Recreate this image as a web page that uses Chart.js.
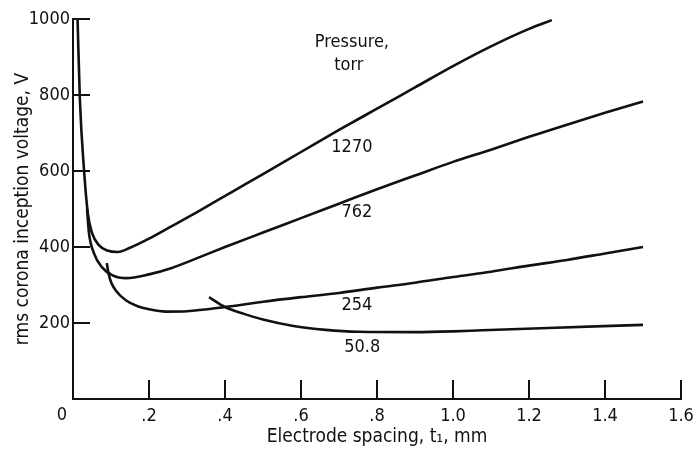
<!DOCTYPE html>
<html>
<head>
<meta charset="utf-8">
<script src="https://cdn.jsdelivr.net/npm/chart.js@4.4.1/dist/chart.umd.min.js"></script>
<style>
  html, body { margin: 0; padding: 0; background: #fff; }
  #wrap { width: 696px; height: 451px; }
</style>
</head>
<body>
<div id="wrap"><canvas id="c" width="696" height="451"></canvas></div>
<script>
// ---- data ----
const xTickValues = [0, 0.2, 0.4, 0.6, 0.8, 1.0, 1.2, 1.4, 1.6];
const xTickLabels = ['0', '.2', '.4', '.6', '.8', '1.0', '1.2', '1.4', '1.6'];
const yTickValues = [200, 400, 600, 800, 1000];
const yTickLabels = ['200', '400', '600', '800', '1000'];

const p1270X = [0.012, 0.018, 0.029, 0.039, 0.05, 0.068, 0.09, 0.118, 0.15, 0.2, 0.26, 0.33, 0.42, 0.5, 0.6, 0.7, 0.8, 0.9, 1.0, 1.1, 1.2, 1.26];
const p1270Y = [1000, 790, 603, 489, 437, 405, 391, 387, 398, 422, 455, 494, 546, 592, 650, 708, 764, 820, 876, 928, 974, 997];

const p762X = [0.037, 0.042, 0.055, 0.076, 0.103, 0.14, 0.2, 0.26, 0.33, 0.4, 0.5, 0.6, 0.7, 0.8, 0.9, 1.0, 1.1, 1.2, 1.3, 1.4, 1.5];
const p762Y = [500, 437, 384, 347, 326, 318, 328, 345, 372, 400, 438, 476, 514, 552, 588, 624, 656, 690, 722, 753, 783];

const p254X = [0.089, 0.093, 0.1, 0.113, 0.139, 0.17, 0.2, 0.245, 0.3, 0.4, 0.5, 0.6, 0.7, 0.8, 0.9, 1.0, 1.1, 1.2, 1.3, 1.4, 1.5];
const p254Y = [358, 333, 308, 285, 260, 244, 236, 230, 231, 242, 256, 268, 279, 293, 306, 321, 335, 351, 366, 383, 400];

const p508X = [0.358, 0.4, 0.45, 0.5, 0.58, 0.665, 0.75, 0.9, 1.0, 1.077, 1.25, 1.5];
const p508Y = [268, 242, 224, 209, 192, 182, 177, 176, 178, 181, 187, 195];

const seriesNames = ['1270', '762', '254', '50.8'];
const noteTexts = ['Pressure,', 'torr', '1270', '762', '254', '50.8'];
const noteX = [0.734, 0.726, 0.734, 0.747, 0.747, 0.761];
const noteY = [939, 879, 663, 492, 247, 137];

// ---- build ----
function pts(xs, ys) { return xs.map((x, i) => ({ x: x, y: ys[i] })); }

const FONT = "'Liberation Sans Narrow', 'DejaVu Sans Condensed', 'Liberation Sans', sans-serif";
const INK = '#111';

function ds(label, xs, ys) {
  return {
    label: label,
    data: pts(xs, ys),
    showLine: true,
    borderColor: INK,
    borderWidth: 2.6,
    pointRadius: 0,
    cubicInterpolationMode: 'monotone',
    fill: false
  };
}

const inwardTicks = {
  id: 'inwardTicks',
  afterDraw(chart) {
    const ctx = chart.ctx;
    const xs = chart.scales.x, ys = chart.scales.y;
    const area = chart.chartArea;
    ctx.save();
    ctx.strokeStyle = INK;
    ctx.lineWidth = 2;
    xTickValues.forEach(v => {
      if (v === 0) return;
      const px = Math.round(xs.getPixelForValue(v));
      ctx.beginPath();
      ctx.moveTo(px, area.bottom);
      ctx.lineTo(px, area.bottom - 19);
      ctx.stroke();
    });
    yTickValues.forEach(v => {
      const py = Math.round(ys.getPixelForValue(v));
      ctx.beginPath();
      ctx.moveTo(area.left, py);
      ctx.lineTo(area.left + 17, py);
      ctx.stroke();
    });
    // origin label, set a little left of the corner as in the original
    ctx.fillStyle = INK;
    ctx.font = '18px ' + FONT;
    ctx.textAlign = 'center';
    ctx.textBaseline = 'middle';
    ctx.fillText(xTickLabels[0], xs.getPixelForValue(0) - 11, area.bottom + 16);
    // curve labels
    noteTexts.forEach((t, i) => {
      ctx.font = '18px ' + FONT;
      ctx.fillText(t, xs.getPixelForValue(noteX[i]), ys.getPixelForValue(noteY[i]));
    });
    ctx.restore();
  }
};

new Chart(document.getElementById('c'), {
  type: 'scatter',
  data: {
    datasets: [
      ds(seriesNames[0], p1270X, p1270Y),
      ds(seriesNames[1], p762X, p762Y),
      ds(seriesNames[2], p254X, p254Y),
      ds(seriesNames[3], p508X, p508Y)
    ]
  },
  options: {
    responsive: false,
    animation: false,
    devicePixelRatio: 1,
    layout: { padding: { top: 19, right: 15, left: 0, bottom: 0 } },
    plugins: {
      legend: { display: false },
      tooltip: { enabled: false }
    },
    scales: {
      x: {
        type: 'linear',
        min: 0, max: 1.6,
        afterBuildTicks(scale) { scale.ticks = xTickValues.map(v => ({ value: v })); },
        afterFit(scale) { scale.height = 52; scale.paddingLeft = 0; scale.paddingRight = 0; },
        grid: { display: false, drawTicks: false },
        border: { display: true, color: INK, width: 2 },
        ticks: {
          color: INK,
          font: { family: FONT, size: 18 },
          padding: 7,
          maxRotation: 0,
          autoSkip: false,
          callback(v) {
            const i = xTickValues.findIndex(t => Math.abs(t - v) < 1e-9);
            return i > 0 ? xTickLabels[i] : '';
          }
        },
        title: {
          display: true,
          text: 'Electrode spacing, t\u2081, mm',
          color: INK,
          font: { family: FONT, size: 19 },
          padding: { top: 0, bottom: 3 }
        }
      },
      y: {
        type: 'linear',
        min: 0, max: 1000,
        afterBuildTicks(scale) { scale.ticks = yTickValues.map(v => ({ value: v })); },
        afterFit(scale) { scale.width = 73; scale.paddingTop = 0; scale.paddingBottom = 0; },
        grid: { display: false, drawTicks: false },
        border: { display: true, color: INK, width: 2 },
        ticks: {
          color: INK,
          font: { family: FONT, size: 18 },
          padding: 3,
          autoSkip: false,
          callback(v) {
            const i = yTickValues.findIndex(t => Math.abs(t - v) < 1e-9);
            return i >= 0 ? yTickLabels[i] : '';
          }
        },
        title: {
          display: true,
          text: 'rms corona inception voltage, V',
          color: INK,
          font: { family: FONT, size: 19 },
          padding: { top: 12, bottom: 0 }
        }
      }
    }
  },
  plugins: [inwardTicks]
});
</script>
</body>
</html>
